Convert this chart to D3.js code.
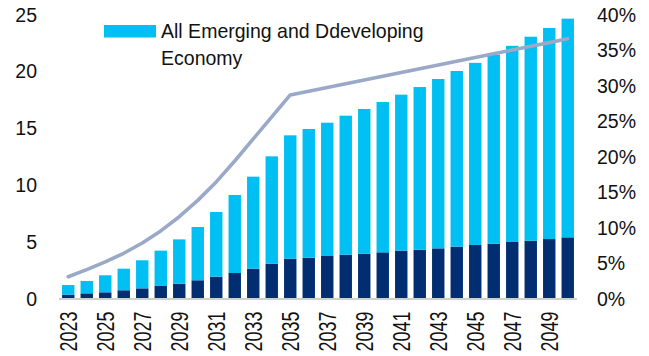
<!DOCTYPE html>
<html>
<head>
<meta charset="utf-8">
<script src="https://cdn.jsdelivr.net/npm/d3@7"></script>
<style>
  html, body { margin: 0; padding: 0; background: #ffffff; }
  svg { display: block; }
  text { font-family: "Liberation Sans", Arial, sans-serif; fill: #111111; }
</style>
</head>
<body>
<div id="chart"></div>
<script>
// Years on the category axis
const years = d3.range(2023, 2051).map(String);

// Lower (dark) segment of each stacked bar
const baseSeries = [0.30, 0.41, 0.50, 0.68, 0.85, 1.06, 1.26, 1.56, 1.88, 2.20,
  2.58, 3.02, 3.46, 3.55, 3.70, 3.81, 3.90, 4.02, 4.17, 4.25,
  4.37, 4.52, 4.67, 4.78, 4.93, 5.04, 5.19, 5.34];

// Upper (light blue) segment: All Emerging and Developing Economy
const emdeSeries = [0.84, 1.09, 1.50, 1.90, 2.47, 3.11, 3.90, 4.69, 5.69, 6.87,
  8.10, 9.45, 10.86, 11.33, 11.73, 12.24, 12.74, 13.23, 13.73, 14.32,
  14.91, 15.46, 16.03, 16.65, 17.27, 17.96, 18.58, 19.25];

// Share line, in percent, on the right axis
const shareSeries = [3.0, 4.0, 5.1, 6.3, 7.75, 9.45, 11.45, 13.75, 16.35, 19.3,
  22.4, 25.5, 28.6, 29.13, 29.65, 30.18, 30.71, 31.23, 31.76, 32.29,
  32.81, 33.34, 33.87, 34.39, 34.92, 35.45, 35.97, 36.5];

const leftTicks = [0, 5, 10, 15, 20, 25];
const rightTicks = [0, 5, 10, 15, 20, 25, 30, 35, 40];
const xTickYears = years.filter((y, i) => i % 2 === 0);
const legendLines = ["All Emerging and Ddeveloping", "Economy"];

const W = 649, H = 356;
const colors = { base: "#022d70", emde: "#00bff2", line: "#99a9c7", axis: "#cfcfcf" };

const svg = d3.select("#chart").append("svg").attr("width", W).attr("height", H);

const x = d3.scaleBand().domain(years).range([59, 577]).paddingInner(0.33).paddingOuter(0.165);
const yL = d3.scaleLinear().domain([0, 25]).range([298, 14]);
const yR = d3.scaleLinear().domain([0, 40]).range([298, 14]);

// stacked bars
const rows = years.map((yr, i) => ({ year: yr, base: baseSeries[i], emde: emdeSeries[i] }));
const stacked = d3.stack().keys(["base", "emde"])(rows);

svg.append("g").selectAll("g").data(stacked).join("g")
  .attr("fill", d => colors[d.key])
  .selectAll("rect").data(d => d).join("rect")
  .attr("x", d => x(d.data.year))
  .attr("width", x.bandwidth())
  .attr("y", d => yL(d[1]))
  .attr("height", d => yL(d[0]) - yL(d[1]));

// baseline
svg.append("line")
  .attr("x1", x.range()[0]).attr("x2", x.range()[1])
  .attr("y1", yL(0) + 1).attr("y2", yL(0) + 1)
  .attr("stroke", colors.axis).attr("stroke-width", 2);

// share line
const line = d3.line()
  .x((d, i) => x(years[i]) + x.bandwidth() / 2)
  .y(d => yR(d));
svg.append("path").datum(shareSeries)
  .attr("d", line)
  .attr("fill", "none")
  .attr("stroke", colors.line)
  .attr("stroke-width", 3.6)
  .attr("stroke-linecap", "round")
  .attr("stroke-linejoin", "round");

// left axis labels
svg.append("g").selectAll("text").data(leftTicks).join("text")
  .attr("transform", d => `translate(37,${yL(d)}) scale(0.93,1)`)
  .attr("text-anchor", "end")
  .attr("dy", "0.36em")
  .style("font-size", "21px")
  .text(d => d);

// right axis labels
svg.append("g").selectAll("text").data(rightTicks).join("text")
  .attr("transform", d => `translate(597,${yR(d)}) scale(0.93,1)`)
  .attr("text-anchor", "start")
  .attr("dy", "0.36em")
  .style("font-size", "21px")
  .text(d => d + "%");

// category labels, rotated
svg.append("g").selectAll("text").data(xTickYears).join("text")
  .attr("transform", d => `translate(${x(d) + x.bandwidth() / 2},311.5) rotate(-90) scale(0.78,1)`)
  .attr("text-anchor", "end")
  .attr("dy", "0.36em")
  .style("font-size", "23px")
  .text(d => d);

// legend
const lg = svg.append("g");
lg.append("rect").attr("x", 104).attr("y", 25).attr("width", 52).attr("height", 12.5).attr("fill", colors.emde);
lg.selectAll("text").data(legendLines).join("text")
  .attr("transform", (d, i) => `translate(161,${37.7 + i * 27.5}) scale(0.93,1)`)
  .style("font-size", "21px")
  .text(d => d);
</script>
</body>
</html>
